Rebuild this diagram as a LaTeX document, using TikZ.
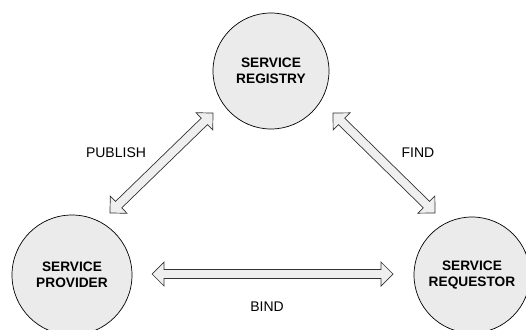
\documentclass[tikz,border=0pt]{standalone}
\usepackage{fontspec}
\setmainfont{Liberation Sans}
\usetikzlibrary{calc}

\definecolor{roleFill}{HTML}{EBEBEB}
\definecolor{arrowFill}{HTML}{EFEFEF}
\definecolor{edgeGray}{HTML}{333333}

\tikzset{
  role/.style={circle, draw=black, line width=0.7pt, fill=roleFill,
    inner sep=0pt, align=center,
    font=\fontsize{13.7}{16.5}\selectfont\bfseries},
  linklabel/.style={font=\fontsize{14}{16}\selectfont, inner sep=0pt},
  fatarrow/.style={draw=edgeGray, line width=0.7pt, fill=arrowFill, line join=miter}
}

% hollow double-headed arrow between two named points
% head length 12pt, head half-width 12pt, shaft half-width 4.5pt
\newcommand\hollowlink[2]{%
  \draw[fatarrow]
    (#1)
    -- ($($(#1)!12pt!(#2)$)!12pt!90:(#2)$)
    -- ($($(#1)!12pt!(#2)$)!4.5pt!90:(#2)$)
    -- ($($(#2)!12pt!(#1)$)!4.5pt!-90:(#1)$)
    -- ($($(#2)!12pt!(#1)$)!12pt!-90:(#1)$)
    -- (#2)
    -- ($($(#2)!12pt!(#1)$)!12pt!90:(#1)$)
    -- ($($(#2)!12pt!(#1)$)!4.5pt!90:(#1)$)
    -- ($($(#1)!12pt!(#2)$)!4.5pt!-90:(#2)$)
    -- ($($(#1)!12pt!(#2)$)!12pt!-90:(#2)$)
    -- cycle;}

\begin{document}
\begin{tikzpicture}[x=1pt, y=-1pt]
  \useasboundingbox (0,0) rectangle (526,329);

  % the three roles
  \node[role, minimum size=116pt] (registry)  at (271,71)  {SERVICE\\REGISTRY};
  \node[role, minimum size=120pt] (provider)  at (72,275)  {SERVICE\\PROVIDER};
  \node[role, minimum size=116pt] (requestor) at (472,275) {SERVICE\\REQUESTOR};

  % arrow tips
  \coordinate (pubLow)  at (110,213);
  \coordinate (pubHigh) at (213,113);
  \coordinate (findHigh) at (333,113);
  \coordinate (findLow)  at (435,213);
  \coordinate (bindL) at (152,274);
  \coordinate (bindR) at (393,274);

  % interactions
  \hollowlink{pubLow}{pubHigh}
  \hollowlink{findHigh}{findLow}
  \hollowlink{bindL}{bindR}

  \node[linklabel] (publish) at (116,153) {PUBLISH};
  \node[linklabel] (find)    at (418,153) {FIND};
  \node[linklabel] (bind)    at (267,307) {BIND};
\end{tikzpicture}
\end{document}
